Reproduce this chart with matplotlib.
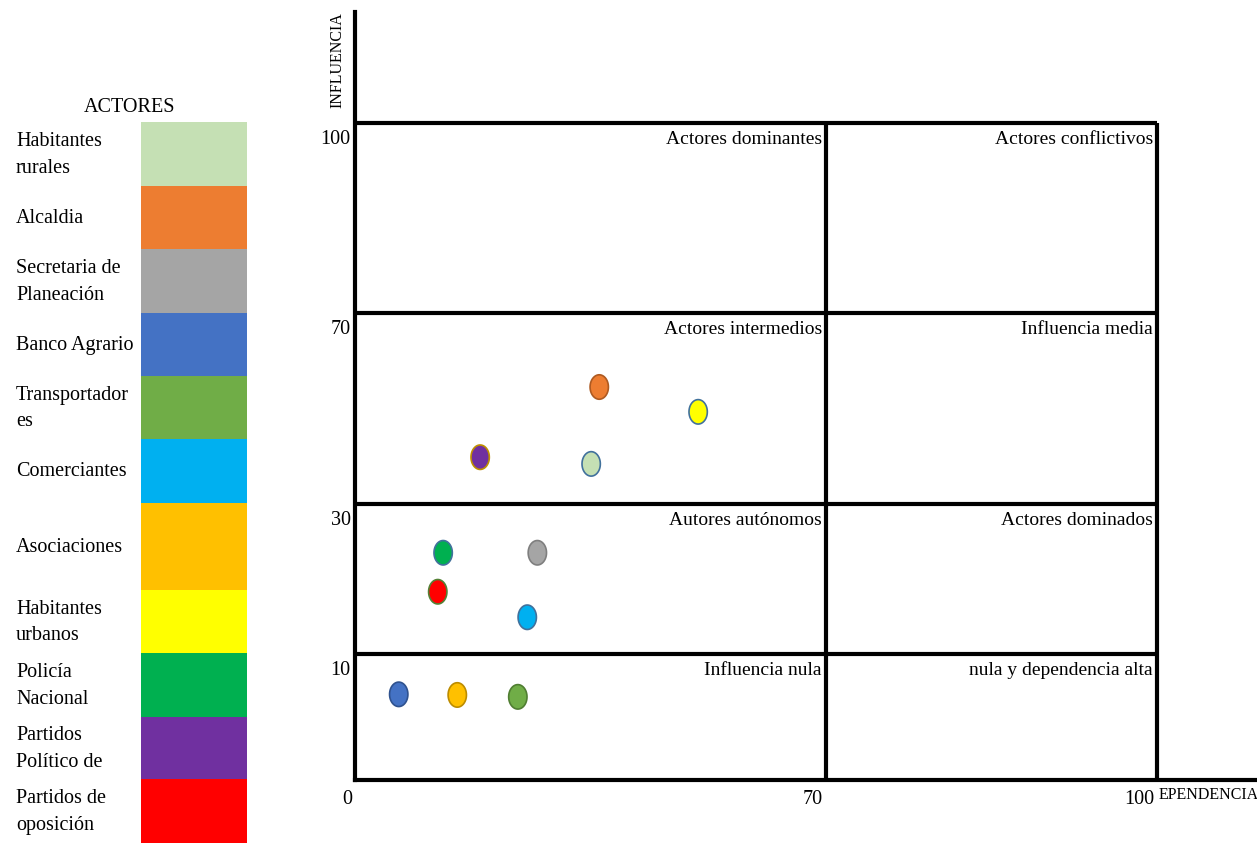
import numpy as np
import matplotlib
matplotlib.use("Agg")
import matplotlib.pyplot as plt
from matplotlib.path import Path
from matplotlib.transforms import ScaledTranslation

plt.rcParams['font.family'] = ['Liberation Serif', 'DejaVu Serif']

# ---------------- data ----------------
actors = ["Habitantes\nrurales", "Alcaldia", "Secretaria de\nPlaneación", "Banco Agrario",
          "Transportador\nes", "Comerciantes", "Asociaciones", "Habitantes\nurbanos",
          "Policía\nNacional", "Partidos\nPolítico de", "Partidos de\noposición"]
colors = ["#C5E0B4", "#ED7D31", "#A5A5A5", "#4472C4", "#70AD47", "#00B0F0",
          "#FFC000", "#FFFF00", "#00B050", "#7030A0", "#FF0000"]
edges = ["#41719C", "#AE5A21", "#7F7F7F", "#2F528F", "#507E32", "#41719C",
         "#BC8C00", "#41719C", "#41719C", "#BF9000", "#538135"]
dependencia = [35.1, 36.3, 27.1, 6.5, 24.2, 25.6, 15.2, 51.0, 13.1, 18.6, 12.3]
influencia = [38.4, 54.5, 23.5, 6.8, 6.6, 14.9, 6.75, 49.3, 23.5, 39.8, 18.3]

x_ticks = [0, 70, 100]
y_ticks = [10, 30, 70, 100]
x_cuts = [70, 100]
y_cuts = [10, 30, 70, 100]
quadrant_labels = [
    (70, 100, "Actores dominantes"), (100, 100, "Actores conflictivos"),
    (70, 70, "Actores intermedios"), (100, 70, "Influencia media"),
    (70, 30, "Autores autónomos"), (100, 30, "Actores dominados"),
    (70, 10, "Influencia nula"), (100, 10, "nula y dependencia alta"),
]

# ---------------- layout ----------------
W, H = 1257, 844
fig = plt.figure(figsize=(W / 100, H / 100), dpi=100)

# piecewise scales (as drawn in the original)
xb = [0, 70, 100, 109.06]
xp = [0, 471, 802, 902]
yb = [0, 10, 30, 70, 100, 117.5]
yp = [0, 126, 276, 467, 657, 768]

def fx(v):
    return np.interp(v, xb, xp)
def ix(v):
    return np.interp(v, xp, xb)
def fy(v):
    return np.interp(v, yb, yp)
def iy(v):
    return np.interp(v, yp, yb)

ax = fig.add_axes([355 / W, (H - 780) / H, 902 / W, 768 / H])
ax.set_xscale('function', functions=(fx, ix))
ax.set_yscale('function', functions=(fy, iy))
ax.set_xlim(0, 109.06)
ax.set_ylim(0, 117.5)
for s in ['top', 'right']:
    ax.spines[s].set_visible(False)
for s in ['left', 'bottom']:
    ax.spines[s].set_linewidth(3)
    ax.spines[s].set_color('black')

ax.hlines(y_cuts, 0, 100, colors='black', lw=3, clip_on=False)
ax.vlines(x_cuts, 0, 100, colors='black', lw=3, clip_on=False)

ax.set_xticks(x_ticks)
ax.set_xticklabels([str(v) for v in x_ticks], fontsize=14.5, ha='right')
ax.set_yticks(y_ticks)
ax.set_yticklabels([str(v) for v in y_ticks], fontsize=14.5)
ax.tick_params(axis='both', length=0)
ax.tick_params(axis='x', pad=7.5)
ax.tick_params(axis='y', pad=3)
ax.minorticks_off()
for lab in ax.get_yticklabels():
    lab.set_transform(lab.get_transform() + ScaledTranslation(0, -0.14, fig.dpi_scale_trans))
for lab in ax.get_xticklabels():
    lab.set_transform(lab.get_transform() + ScaledTranslation(-0.03, 0, fig.dpi_scale_trans))

for xq, yq, t in quadrant_labels:
    ax.annotate(t, xy=(xq, yq), xytext=(-3, -5.5), textcoords='offset points',
                ha='right', va='top', fontsize=14)

ax.annotate("INFLUENCIA", xy=(0, 117.5), xytext=(-12.5, 0), textcoords='offset points',
            rotation=90, ha='center', va='top', fontsize=11.5, annotation_clip=False)
ax.annotate("EPENDENCIA", xy=(100, 0), xytext=(1, -5), textcoords='offset points',
            ha='left', va='top', fontsize=11.5, annotation_clip=False)

# ellipse marker
th = np.linspace(0, 2 * np.pi, 60)
ell = Path(np.column_stack([0.75 * np.cos(th), np.sin(th)]), closed=True)
ax.scatter(dependencia, influencia, s=310, marker=ell, c=colors, edgecolors=edges,
           linewidths=1.2, zorder=5, clip_on=False)

# ---------------- legend table ----------------
row_edges = [122, 186, 249, 313, 376, 439, 503, 590, 653, 717, 779, 843]
lax = fig.add_axes([0, 0, 260 / W, 1])
lax.set_xlim(0, 260)
lax.set_ylim(H, 0)
lax.axis('off')
tops = np.array(row_edges[:-1])
heights = np.diff(row_edges)
lax.bar(141, heights, width=106, bottom=tops, align='edge', color=colors, linewidth=0)
for i, name in enumerate(actors):
    lax.text(16, tops[i] + heights[i] / 2 + 1, name, ha='left', va='center',
             fontsize=14.5, linespacing=1.55)
lax.text(130, 108, "ACTORES", ha='center', va='center', fontsize=14.5)

fig.savefig("out.png", dpi=100)
